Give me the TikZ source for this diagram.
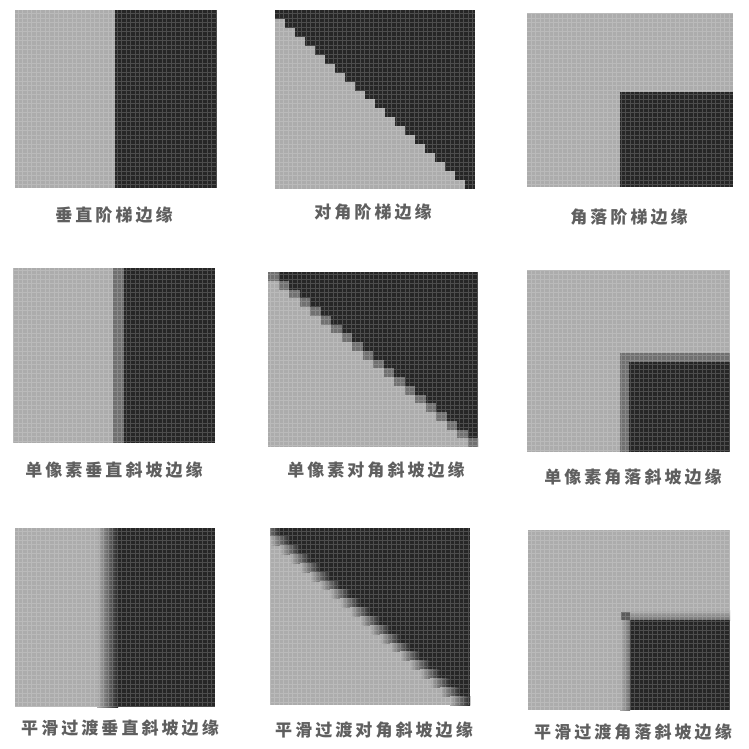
\documentclass[tikz,border=0pt]{standalone}
\usepackage{fontspec}
\newfontfamily\cjk[LetterSpace=18]{Noto Sans CJK SC}
\definecolor{lite}{RGB}{172,172,172}
\definecolor{dark}{RGB}{38,38,38}
\definecolor{ramp}{RGB}{112,112,112}
\definecolor{captext}{RGB}{95,95,95}
\tikzset{
  edgename/.style={text=captext,font=\cjk\bfseries\fontsize{17}{20}\selectfont,inner sep=0pt},
  pixgrid/.style={draw=white,opacity=0.18,line width=0.6pt,xstep=4.5pt,ystep=4.5pt}
}
\begin{document}
\begin{tikzpicture}[x=1pt,y=-1pt]
  \useasboundingbox (0,0) rectangle (748,749);
  % row 1: step edges
  \fill[lite] (15,10) rectangle (217,188);
  \fill[dark] (115,10) rectangle (217,188);
  \fill[lite] (275,10) rectangle (475,189);
  \foreach \i in {0,...,19}
    \fill[dark] ({275+10*\i},{10+8.95*\i}) rectangle (475,{10+8.95*(\i+1)});
  \fill[lite] (527,13) rectangle (733,187);
  \fill[dark] (620,92) rectangle (733,187);
  \node[edgename] (e1) at (114,215) {垂直阶梯边缘};
  \node[edgename] (e2) at (373,212) {对角阶梯边缘};
  \node[edgename] (e3) at (629,217) {角落阶梯边缘};
  % row 2: one pixel ramp
  \fill[lite] (13,268) rectangle (215,443);
  \fill[ramp] (113,268) rectangle (124,443);
  \fill[dark] (124,268) rectangle (215,443);
  \fill[lite] (268,272) rectangle (478,447);
  \foreach \i in {0,...,19} {
    \fill[ramp] ({268+10.5*\i},{272+8.75*\i}) rectangle ({268+10.5*(\i+1)},{272+8.75*(\i+1)});
    \fill[dark] ({268+10.5*(\i+1)},{272+8.75*\i}) rectangle (478,{272+8.75*(\i+1)});
  }
  \fill[lite] (527,270) rectangle (730,452);
  \fill[ramp] (620,353) rectangle (730,452);
  \fill[dark] (629,362) rectangle (730,452);
  \node[edgename] (e4) at (114,470) {单像素垂直斜坡边缘};
  \node[edgename] (e5) at (376,470) {单像素对角斜坡边缘};
  \node[edgename] (e6) at (633,477) {单像素角落斜坡边缘};
  % row 3: smooth ramp
  \fill[lite] (15,528) rectangle (215,707);
  \shade[left color=lite,right color=dark] (97,528) rectangle (118,707);
  \fill[dark] (118,528) rectangle (215,707);
  \fill[lite] (270,528) rectangle (470,705);
  \begin{scope}
    \clip (270,528) rectangle (470,705);
    \foreach \i in {0,...,19} {
      \shade[left color=lite,right color=dark] ({270+10*(\i-1)},{528+8.85*\i}) rectangle ({270+10*(\i+1)},{528+8.85*(\i+1)});
      \fill[dark] ({270+10*(\i+1)},{528+8.85*\i}) rectangle (470,{528+8.85*(\i+1)});
    }
  \end{scope}
  \fill[lite] (528,530) rectangle (730,710);
  \shade[left color=lite,right color=ramp] (620,620) rectangle (630,710);
  \shade[top color=lite,bottom color=ramp] (630,610) rectangle (730,620);
  \fill[dark] (630,620) rectangle (730,710);
  \fill[ramp!70!dark] (621,612) rectangle (630,620);
  \node[edgename] (e7) at (120,728) {平滑过渡垂直斜坡边缘};
  \node[edgename] (e8) at (374,730) {平滑过渡对角斜坡边缘};
  \node[edgename] (e9) at (633,732) {平滑过渡角落斜坡边缘};
  % pixel texture
  \draw[pixgrid] (15,10) grid (217,188);
  \draw[pixgrid] (275,10) grid (475,189);
  \draw[pixgrid] (527,13) grid (733,187);
  \draw[pixgrid] (13,268) grid (215,443);
  \draw[pixgrid] (268,272) grid (478,447);
  \draw[pixgrid] (527,270) grid (730,452);
  \draw[pixgrid] (15,528) grid (215,707);
  \draw[pixgrid] (270,528) grid (470,705);
  \draw[pixgrid] (528,530) grid (730,710);
\end{tikzpicture}
\end{document}
